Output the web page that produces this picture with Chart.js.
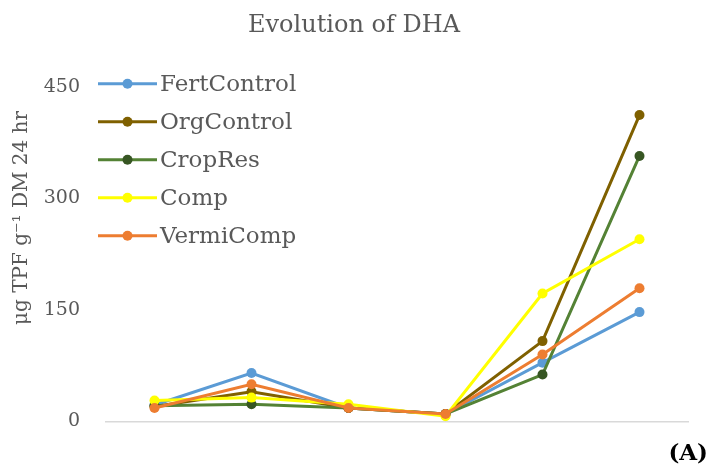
<!DOCTYPE html>
<html>
<head>
<meta charset="utf-8">
<script src="https://cdn.jsdelivr.net/npm/chart.js@4"></script>
<style>
html,body{margin:0;padding:0;background:#fff;}
#wrap{width:708px;height:472px;}
</style>
</head>
<body>
<div id="wrap"><canvas id="c" width="708" height="472"></canvas></div>
<script>
const categories = ['1', '2', '3', '4', '5', '6'];
const seriesNames = ['FertControl', 'OrgControl', 'CropRes', 'Comp', 'VermiComp'];
const fertControl = [22, 65, 18, 10, 79, 147];
const orgControl = [20, 40, 18, 10, 108, 412];
const cropRes = [21, 23, 18, 10, 63, 357];
const comp = [28, 32, 23, 7, 172, 245];
const vermiComp = [18, 50, 18, 10, 90, 179];
const yTicks = [0, 150, 300, 450];
const titleText = 'Evolution of DHA';
const yTitle = 'μg TPF g⁻¹ DM 24 hr';
const panelLabel = '(A)';

const lineColors = ['#5b9bd5', '#7f6000', '#548235', '#ffff00', '#ed7d31'];
const dotColors = ['#5b9bd5', '#7f6000', '#375623', '#ffff00', '#ed7d31'];
const values = [fertControl, orgControl, cropRes, comp, vermiComp];
const FONT = "'DejaVu Serif', serif";
const GREY = '#595959';

const datasets = seriesNames.map((n, i) => ({
  label: n,
  data: values[i],
  borderColor: lineColors[i],
  backgroundColor: dotColors[i],
  pointBackgroundColor: dotColors[i],
  pointBorderColor: dotColors[i],
  borderWidth: 3,
  pointRadius: 5,
  pointBorderWidth: 0,
  tension: 0,
  order: seriesNames.length - i
}));

const customLegend = {
  id: 'customLegend',
  afterDraw(chart) {
    const ctx = chart.ctx;
    const ca = chart.chartArea;
    const x0 = ca.left - 8;
    const y0 = ca.top - 3;
    const step = 38;
    ctx.save();
    ctx.font = '23px ' + FONT;
    ctx.textBaseline = 'middle';
    ctx.textAlign = 'left';
    chart.data.datasets.forEach((ds, i) => {
      const y = y0 + i * step;
      ctx.strokeStyle = ds.borderColor;
      ctx.lineWidth = 3;
      ctx.beginPath();
      ctx.moveTo(x0, y);
      ctx.lineTo(x0 + 59, y);
      ctx.stroke();
      ctx.fillStyle = ds.pointBackgroundColor;
      ctx.beginPath();
      ctx.arc(x0 + 29.5, y, 5, 0, Math.PI * 2);
      ctx.fill();
      ctx.fillStyle = GREY;
      ctx.fillText(ds.label, x0 + 62, y + 1);
    });
    // y-axis title
    ctx.translate(22, 218);
    ctx.rotate(-Math.PI / 2);
    ctx.font = '20px ' + FONT;
    ctx.textAlign = 'center';
    ctx.fillStyle = GREY;
    ctx.fillText(yTitle, 0, 0);
    ctx.restore();
  }
};

new Chart(document.getElementById('c'), {
  type: 'line',
  data: { labels: categories, datasets: datasets },
  options: {
    responsive: false,
    animation: false,
    layout: { padding: 0 },
    plugins: {
      legend: { display: false },
      tooltip: { enabled: false },
      title: {
        display: true,
        text: titleText,
        color: GREY,
        font: { family: FONT, size: 24, weight: 'normal' },
        padding: { top: 11, bottom: 47 }
      },
      subtitle: {
        display: true,
        text: panelLabel,
        position: 'bottom',
        align: 'end',
        color: '#000',
        font: { family: FONT, size: 23, weight: 'bold' },
        padding: { top: 0, bottom: 4 }
      }
    },
    scales: {
      x: {
        type: 'category',
        offset: true,
        grid: { display: false },
        border: { display: true, color: '#d9d9d9', width: 1.5 },
        ticks: { display: false },
        afterFit: s => { s.height = 19; }
      },
      y: {
        min: 0,
        max: 450,
        afterBuildTicks: s => { s.ticks = yTicks.map(v => ({ value: v })); },
        grid: { display: false },
        border: { display: false },
        ticks: {
          color: GREY,
          padding: 18,
          font: { family: FONT, size: 19 }
        },
        afterFit: s => { s.width = 106; }
      },
      y2: {
        position: 'right',
        display: true,
        grid: { display: false },
        border: { display: false },
        ticks: { display: false },
        afterFit: s => { s.width = 20; }
      }
    }
  },
  plugins: [customLegend]
});
</script>
</body>
</html>
